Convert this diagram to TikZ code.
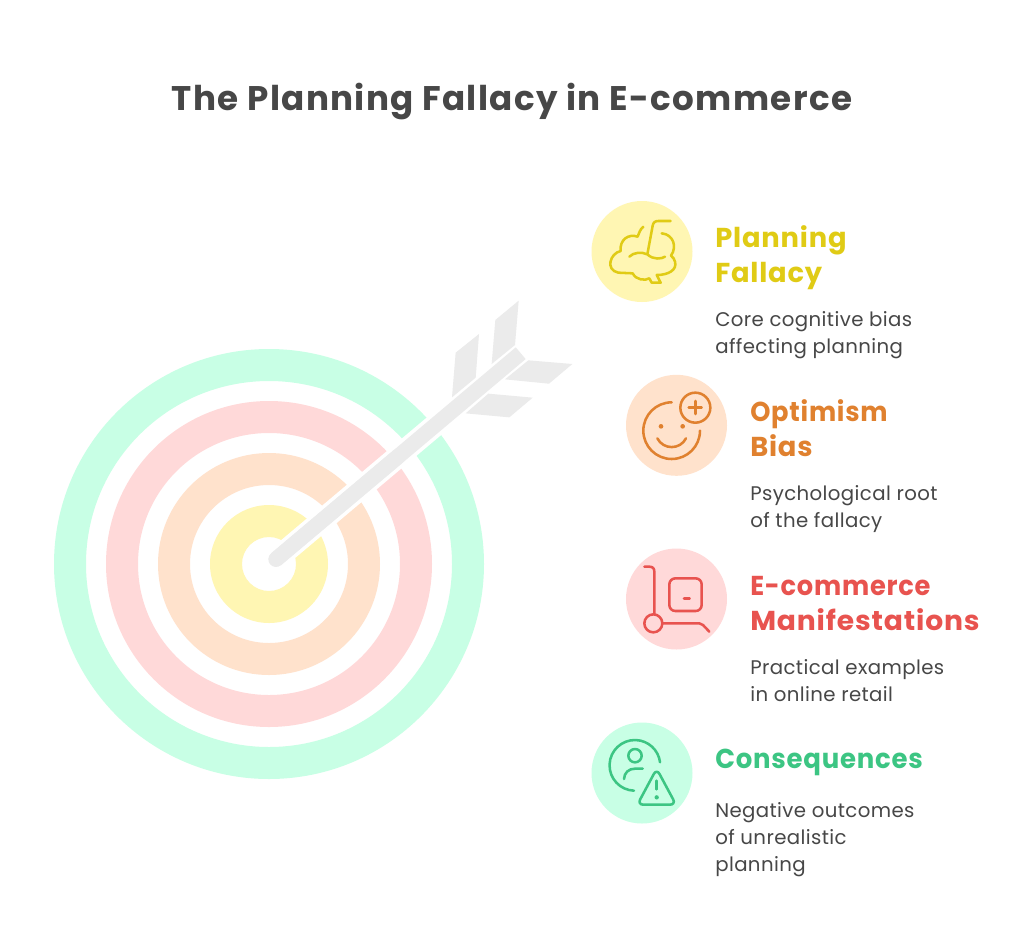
\documentclass[tikz,border=0pt]{standalone}
\usepackage{fontspec}
\usetikzlibrary{calc}
\setmainfont{Poppins}
\newfontfamily\titlefont[LetterSpace=4]{Poppins}
\newfontfamily\headfont[LetterSpace=3]{Poppins}
\newfontfamily\descfont[LetterSpace=2]{Poppins}
\newcommand{\hw}[2]{\scalebox{#1}[1]{#2}}
\definecolor{ink}{HTML}{474747}
\definecolor{ylwbg}{HTML}{FFF6B3}
\definecolor{orgbg}{HTML}{FFE2CC}
\definecolor{redbg}{HTML}{FFD9D9}
\definecolor{grnbg}{HTML}{C8FFE5}
\definecolor{ylw}{HTML}{E0CB15}
\definecolor{org}{HTML}{E0812F}
\definecolor{red2}{HTML}{E8534F}
\definecolor{grn}{HTML}{3CC583}
\definecolor{shaft}{HTML}{EBEBEB}
\tikzset{
  x=0.75pt,y=-0.75pt,
  badge/.style={circle,inner sep=0pt,minimum size=75.75pt,fill=#1},
  heading/.style={anchor=base west,inner sep=0pt,font=\headfont\bfseries\fontsize{20.5}{20.5}\selectfont,text=#1},
  desc/.style={anchor=base west,inner sep=0pt,font=\descfont\fontsize{14.8}{14.8}\selectfont,text=ink},
  icon/.style={draw=#1,line width=1.9pt,line cap=round,line join=round},
  feather/.style={fill=shaft},
}
\begin{document}
\begin{tikzpicture}
\useasboundingbox (0,0) rectangle (1024,929);
\fill[white] (0,0) rectangle (1024,929);
\node[anchor=base,inner sep=0pt,text=ink,font=\titlefont\bfseries\fontsize{25.6}{25.6}\selectfont] (title) at (512,110) {The Planning Fallacy in E-commerce};
% target
\coordinate (c) at (269,564);
\fill[grnbg,even odd rule] (c) circle[radius=161.25pt] (c) circle[radius=137.25pt];
\fill[redbg,even odd rule] (c) circle[radius=122.25pt] (c) circle[radius=98.25pt];
\fill[orgbg,even odd rule] (c) circle[radius=83.25pt] (c) circle[radius=59.25pt];
\fill[ylwbg,even odd rule] (c) circle[radius=44.25pt] (c) circle[radius=20.25pt];
% arrow
\coordinate (tail) at (276,559.3);
\coordinate (tip) at (520.7,353.2);
\draw[white,line width=17pt] (tail) -- (tip);
\draw[shaft,line width=11.5pt,line cap=round] (tail) -- ($(tail)!0.5!(tip)$);
\draw[shaft,line width=11.5pt] (tail) -- (tip);
\begin{scope}[shift={(250,290)},scale=1/3]
\fill[feather] (736,90) -- (806,32) -- (795,165) -- (725,222) -- cycle;
\fill[feather] (617,188) -- (687,132) -- (677,263) -- (606,322) -- cycle;
\fill[feather] (835,211) -- (967,222) -- (897,281) -- (765,268) -- cycle;
\fill[feather] (715,311) -- (848,323) -- (778,382) -- (647,370) -- cycle;
\end{scope}
% badges
\node[badge=ylwbg] (b1) at (642,251.5) {};
\node[badge=orgbg] (b2) at (676.5,425.3) {};
\node[badge=redbg] (b3) at (676.5,599) {};
\node[badge=grnbg] (b4) at (642,773) {};
% brain
\begin{scope}[shift={(590,195)},scale=1/3]
\draw[icon=ylw] (160,95) .. controls (150,103) and (147,115) .. (143,125)
  .. controls (115,115) and (88,135) .. (92,168)
  .. controls (60,175) and (45,225) .. (85,233) -- (128,235)
  .. controls (138,255) and (165,258) .. (178,250) -- (185,263) -- (212,263) -- (200,240)
  .. controls (235,240) and (262,225) .. (255,200) .. controls (253,192) and (250,188) .. (243,182)
  .. controls (262,155) and (250,118) .. (215,115);
\draw[icon=ylw] (118,185) .. controls (130,172) and (155,170) .. (172,178)
  .. controls (190,195) and (215,192) .. (225,185);
\draw[icon=ylw] (172,178) -- (188,92) .. controls (190,82) and (195,78) .. (205,78) -- (242,78);
\end{scope}
% face
\begin{scope}[shift={(620,370)},scale=1/3]
\draw[icon=org] (155,97) arc[start angle=-90,end angle=-360,radius=85];
\fill[org] (123,169) circle[radius=7] (188,169) circle[radius=7];
\draw[icon=org] (112,205) .. controls (130,240) and (180,240) .. (198,205);
\draw[icon=org] (226,113) circle[radius=45];
\draw[icon=org] (206,113) -- (245,113) (226,93) -- (226,132);
\end{scope}
% cart
\begin{scope}[shift={(620,545)},scale=1/3]
\draw[icon=red2] (73,65) -- (88,65) .. controls (98,65) and (103,70) .. (103,80) -- (103,208);
\draw[icon=red2] (100,235) circle[radius=27];
\draw[icon=red2] (128,235) -- (238,235) .. controls (243,235) and (246,236) .. (249,240) -- (268,260);
\draw[icon=red2,rounded corners=4.5pt] (148,100) rectangle (245,198);
\draw[icon=red2] (192,160) -- (209,160);
\end{scope}
% person alert
\begin{scope}[shift={(590,718)},scale=1/3]
\draw[icon=grn] (132,218) arc[start angle=92,end angle=353,radius=76];
\draw[icon=grn] (135,113) circle[radius=20];
\draw[icon=grn] (102,183) .. controls (103,165) and (115,152) .. (135,152) -- (158,152);
\draw[icon=grn,rounded corners=4.5pt] (200,152) -- (258,260) -- (142,260) -- cycle;
\draw[icon=grn] (200,188) -- (200,214);
\fill[grn] (200,238) circle[radius=6.5];
\end{scope}
% texts
\node[heading=ylw] (h1a) at (715,247) {Planning};
\node[heading=ylw] (h1b) at (715,282) {Fallacy};
\node[desc] (d1a) at (715,326) {Core cognitive bias};
\node[desc] (d1b) at (715,353) {affecting planning};
\node[heading=org] (h2a) at (750,421) {\hw{0.94}{Optimism}};
\node[heading=org] (h2b) at (750,456) {Bias};
\node[desc] (d2a) at (750,500) {Psychological root};
\node[desc] (d2b) at (750,527) {of the fallacy};
\node[heading=red2] (h3a) at (750,595) {\hw{0.94}{E-commerce}};
\node[heading=red2] (h3b) at (750,630) {\hw{1.03}{Manifestations}};
\node[desc] (d3a) at (750,674) {Practical examples};
\node[desc] (d3b) at (750,701) {in online retail};
\node[heading=grn] (h4a) at (715,768) {\hw{0.95}{Consequences}};
\node[desc] (d4a) at (715,817) {Negative outcomes};
\node[desc] (d4b) at (715,844) {of unrealistic};
\node[desc] (d4c) at (715,871) {planning};
\end{tikzpicture}
\end{document}
